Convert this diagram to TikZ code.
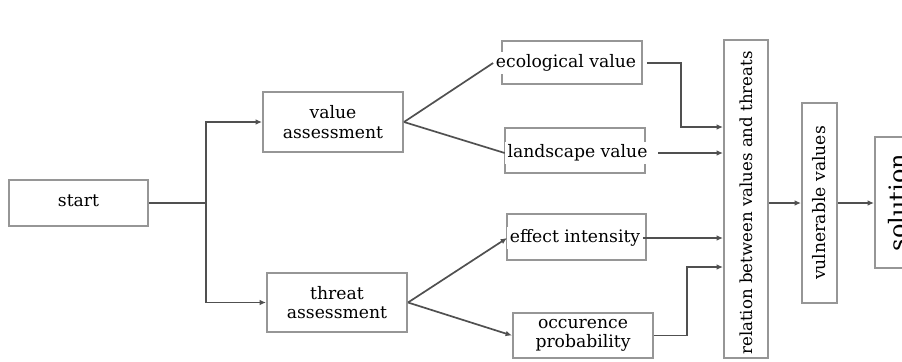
\documentclass[tikz,border=0pt]{standalone}
\usepackage{fontspec}
\setmainfont{DejaVu Serif}
\usetikzlibrary{arrows.meta}

\definecolor{linegray}{RGB}{80,80,80}
\definecolor{boxgray}{RGB}{150,150,150}

\tikzset{
  box/.style={draw=boxgray, line width=1pt, inner sep=0pt, align=center},
  txt/.style={fill=white, inner sep=1.2pt},
  conn/.style={draw=linegray, line width=0.85pt},
  arr/.style={conn, -{Latex[length=3.2pt,width=2.8pt]}}
}

\begin{document}
\begin{tikzpicture}[x=0.5pt, y=-0.5pt, font=\fontsize{8.6}{9.6}\selectfont]

\useasboundingbox (0,0) rectangle (902,361);

	% left part
	\node[box, minimum width=69.5pt, minimum height=23pt] (start) at (78.5,203) {\raisebox{2.5pt}{start}};
	\node[box, minimum width=70pt, minimum height=30pt] (va) at (333,122) {value\\assessment};
	\node[box, minimum width=70pt, minimum height=29.5pt] (ta) at (337,302.5) {threat\\assessment};

	\coordinate (fork) at (206,203);
	\draw[conn] (start.east) -- (fork);
	\draw[arr] (fork) |- (va.west);
	\draw[arr] (fork) |- (ta.west);

	% values and threats
	\node[box, minimum width=70pt, minimum height=21.5pt] (eco) at (572,62.5) {};
	\node[txt] (ecot) at (566,63) {ecological value};
	\node[box, minimum width=70pt, minimum height=22.5pt] (land) at (575,150.5) {};
	\node[txt] (landt) at (577.5,153) {landscape value};
	\node[box, minimum width=69.5pt, minimum height=23pt] (eff) at (576.5,237) {};
	\node[txt] (efft) at (575,238) {effect intensity};
	\node[box, minimum width=70pt, minimum height=22.5pt] (occ) at (583,335.5) {occurence\\probability};

	\draw[conn] (va.east) -- (ecot.west);
	\draw[conn] (va.east) -- (landt.west);
	\draw[arr] (ta.east) -- (efft.west);
	\draw[arr] (ta.east) -- (occ.west);

	% right part
	\node[box, minimum width=22pt, minimum height=159pt] (rel) at (746,199) {};
	\node[rotate=90, font=\fontsize{8.3}{9.6}\selectfont] (relt) at ([yshift=-2pt]rel.center) {relation between values and threats};
	\node[box, minimum width=17.5pt, minimum height=100pt] (vul) at (819.5,203) {};
	\node[rotate=90] (vult) at (vul.center) {vulnerable values};
	\node[box, minimum width=22.5pt, minimum height=65.5pt] (sol) at (897.5,202.5) {};
	\node[rotate=90, font=\fontsize{12}{14}\selectfont] (solt) at (sol.center) {solution};

	\coordinate (e1) at (681,127);
	\coordinate (o1) at (687,267);
	\draw[arr, shorten <=4pt] (ecot.east) -| (e1) -- (rel.west |- e1);
	\draw[arr, shorten <=4pt] (landt.east) -- (rel.west |- landt.east);
	\draw[arr] (efft.east) -- (rel.west |- efft.east);
	\draw[arr] (occ.east) -| (o1) -- (rel.west |- o1);

	\draw[arr] (rel.east |- vul.west) -- (vul.west);
	\draw[arr] (vul.east) -- (sol.west |- vul.east);

\end{tikzpicture}
\end{document}
